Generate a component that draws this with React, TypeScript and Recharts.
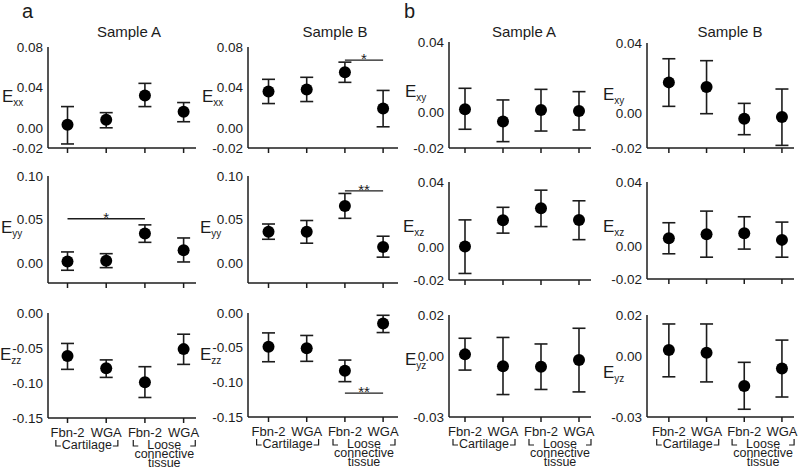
import { ScatterChart, Scatter, XAxis, YAxis, ErrorBar, ReferenceLine } from 'recharts'

const categories = ['Fbn-2', 'WGA', 'Fbn-2', 'WGA']
const tissueGroups = ['Cartilage', 'Loose connective tissue']
const samples = ['Sample A', 'Sample B']

// strain means and error-bar bounds
const exxAMean = [0.003, 0.008, 0.032, 0.016]
const exxALo = [-0.016, 0.0, 0.021, 0.006]
const exxAHi = [0.021, 0.015, 0.044, 0.025]
const exxBMean = [0.036, 0.038, 0.055, 0.019]
const exxBLo = [0.024, 0.026, 0.045, 0.001]
const exxBHi = [0.048, 0.05, 0.065, 0.037]

const eyyAMean = [0.002, 0.003, 0.034, 0.015]
const eyyALo = [-0.008, -0.005, 0.024, 0.0015]
const eyyAHi = [0.013, 0.011, 0.044, 0.029]
const eyyBMean = [0.036, 0.036, 0.0656, 0.0187]
const eyyBLo = [0.0275, 0.023, 0.0515, 0.007]
const eyyBHi = [0.045, 0.049, 0.08, 0.031]

const ezzAMean = [-0.0615, -0.079, -0.099, -0.0516]
const ezzALo = [-0.0805, -0.092, -0.1207, -0.0734]
const ezzAHi = [-0.0435, -0.067, -0.0767, -0.0303]
const ezzBMean = [-0.0488, -0.051, -0.0832, -0.0152]
const ezzBLo = [-0.0703, -0.0697, -0.099, -0.0282]
const ezzBHi = [-0.0287, -0.0324, -0.0679, -0.0033]

const exyAMean = [0.002, -0.005, 0.0015, 0.001]
const exyALo = [-0.0094, -0.0164, -0.0104, -0.0098]
const exyAHi = [0.0138, 0.0072, 0.0132, 0.0119]
const exyBMean = [0.0175, 0.0148, -0.0033, -0.0023]
const exyBLo = [0.0038, -0.0004, -0.0124, -0.0185]
const exyBHi = [0.031, 0.0299, 0.0055, 0.0137]

const exzAMean = [0.0005, 0.0166, 0.0239, 0.0168]
const exzALo = [-0.016, 0.0087, 0.0127, 0.0047]
const exzAHi = [0.0168, 0.0245, 0.035, 0.0285]
const exzBMean = [0.0052, 0.0077, 0.0083, 0.0042]
const exzBLo = [-0.0044, -0.0065, -0.0015, -0.0065]
const exzBHi = [0.0148, 0.022, 0.0185, 0.0152]

const eyzAMean = [0.0007, -0.0051, -0.0054, -0.0021]
const eyzALo = [-0.007, -0.019, -0.0165, -0.0177]
const eyzAHi = [0.0086, 0.009, 0.0058, 0.0135]
const eyzBMean = [0.0028, 0.0015, -0.0148, -0.0062]
const eyzBLo = [-0.0103, -0.0128, -0.0262, -0.0202]
const eyzBHi = [0.0156, 0.0156, -0.0032, 0.0077]

const INK = '#1c1c1c'
const FONT = '"Liberation Sans", Arial, sans-serif'

// layout of the 3x4 grid (pixels)
const AX = [48, 248, 449, 647]
const EX = [196, 398, 591, 794]
const TOPS = [[47, 47, 42, 43], [176, 176, 182, 182], [313, 313, 315, 315]]
const BOTS = [[148, 148, 148, 148], [283, 283, 280, 279], [418, 417, 417, 417]]
const XDOM = [[0.496, 4.32], [0.463, 4.39], [0.579, 4.316], [0.42, 4.32]]

type Sig = { from: number; to: number; y: number; mark: string }
type PanelDef = {
  sub: string
  mean: number[]
  lo: number[]
  hi: number[]
  row: number
  col: number
  domain: [number, number]
  ticks: number[]
  label: [number, number]
  sig?: Sig
}

const panels: PanelDef[] = [
  { sub: 'xx', mean: exxAMean, lo: exxALo, hi: exxAHi, row: 0, col: 0, domain: [-0.02, 0.08], ticks: [-0.02, 0, 0.04, 0.08], label: [2, 102] },
  { sub: 'xx', mean: exxBMean, lo: exxBLo, hi: exxBHi, row: 0, col: 1, domain: [-0.02, 0.08], ticks: [-0.02, 0, 0.04, 0.08], label: [202, 102], sig: { from: 3, to: 4, y: 0.067, mark: '*' } },
  { sub: 'xy', mean: exyAMean, lo: exyALo, hi: exyAHi, row: 0, col: 2, domain: [-0.02, 0.04], ticks: [-0.02, 0, 0.04], label: [405, 97] },
  { sub: 'xy', mean: exyBMean, lo: exyBLo, hi: exyBHi, row: 0, col: 3, domain: [-0.02, 0.04], ticks: [-0.02, 0, 0.04], label: [603, 100] },
  { sub: 'yy', mean: eyyAMean, lo: eyyALo, hi: eyyAHi, row: 1, col: 0, domain: [-0.0226, 0.1], ticks: [0, 0.05, 0.1], label: [1, 233], sig: { from: 1, to: 3, y: 0.051, mark: '*' } },
  { sub: 'yy', mean: eyyBMean, lo: eyyBLo, hi: eyyBHi, row: 1, col: 1, domain: [-0.0226, 0.1], ticks: [0, 0.05, 0.1], label: [200, 233], sig: { from: 3, to: 4, y: 0.083, mark: '**' } },
  { sub: 'xz', mean: exzAMean, lo: exzALo, hi: exzAHi, row: 1, col: 2, domain: [-0.02, 0.04], ticks: [-0.02, 0, 0.04], label: [403, 232] },
  { sub: 'xz', mean: exzBMean, lo: exzBLo, hi: exzBHi, row: 1, col: 3, domain: [-0.02, 0.04], ticks: [-0.02, 0, 0.04], label: [603, 232] },
  { sub: 'zz', mean: ezzAMean, lo: ezzALo, hi: ezzAHi, row: 2, col: 0, domain: [-0.15, 0], ticks: [-0.15, -0.1, -0.05, 0], label: [0, 360] },
  { sub: 'zz', mean: ezzBMean, lo: ezzBLo, hi: ezzBHi, row: 2, col: 1, domain: [-0.15, 0], ticks: [-0.15, -0.1, -0.05, 0], label: [200, 360], sig: { from: 3, to: 4, y: -0.1157, mark: '**' } },
  { sub: 'yz', mean: eyzAMean, lo: eyzALo, hi: eyzAHi, row: 2, col: 2, domain: [-0.03, 0.02], ticks: [-0.03, 0, 0.02], label: [405, 365] },
  { sub: 'yz', mean: eyzBMean, lo: eyzBLo, hi: eyzBHi, row: 2, col: 3, domain: [-0.03, 0.02], ticks: [-0.03, 0, 0.02], label: [603, 378] },
]

function CategoryTick(props: any) {
  const { x, y, payload, labelled } = props
  const axisY = y - 5
  const v = payload.value
  if (Number.isInteger(v)) {
    return (
      <g>
        <line x1={x} x2={x} y1={axisY} y2={axisY + 5} stroke={INK} strokeWidth={1.5} />
        {labelled && (
          <text x={x} y={axisY + 19} textAnchor="middle" fontSize={13} fill={INK} fontFamily={FONT}>
            {categories[v - 1]}
          </text>
        )}
      </g>
    )
  }
  if (!labelled) return <g />
  const lines = v < 2 ? [tissueGroups[0]] : tissueGroups[1].split(' ')
  const by = axisY + 28
  return (
    <g>
      <path
        d={`M${x - 31},${by - 6}V${by}h5M${x + 31},${by - 6}V${by}h-5`}
        stroke={INK}
        strokeWidth={1.2}
        fill="none"
      />
      {lines.map((t, i) => (
        <text key={i} x={x} y={axisY + 30.5 + i * 9.2} textAnchor="middle" fontSize={12.5} fill={INK} fontFamily={FONT}>
          {t}
        </text>
      ))}
    </g>
  )
}

function Panel({ p }: { p: PanelDef }) {
  const top = TOPS[p.row][p.col]
  const bottom = BOTS[p.row][p.col]
  const axisX = AX[p.col]
  const endX = EX[p.col]
  const bottomRow = p.row === 2
  const xAxisH = bottomRow ? 55 : 10
  const width = endX - axisX + 45 + 6
  const height = 10 + (bottom - top) + xAxisH
  const data = p.mean.map((m, i) => ({ x: i + 1, y: m, err: [m - p.lo[i], p.hi[i] - m] }))
  const xTicks = bottomRow ? [1, 1.5, 2, 3, 3.5, 4] : [1, 2, 3, 4]

  return (
    <div style={{ position: 'absolute', left: axisX - 45, top: top - 10 }}>
      <ScatterChart width={width} height={height} margin={{ top: 10, right: 6, bottom: 0, left: 0 }}>
        <XAxis
          type="number"
          dataKey="x"
          domain={XDOM[p.col]}
          ticks={xTicks}
          interval={0}
          height={xAxisH}
          tickLine={false}
          tickSize={5}
          tickMargin={0}
          axisLine={{ stroke: INK, strokeWidth: 1.5 }}
          tick={(t: any) => <CategoryTick {...t} labelled={bottomRow} />}
        />
        <YAxis
          type="number"
          dataKey="y"
          width={45}
          domain={p.domain}
          ticks={p.ticks}
          interval={0}
          tickLine={false}
          tickSize={0}
          tickMargin={5}
          axisLine={{ stroke: INK, strokeWidth: 1.5 }}
          tick={{ fontSize: 13.5, fill: INK, fontFamily: FONT }}
          tickFormatter={(v: number) => v.toFixed(2)}
        />
        {p.sig && (
          <ReferenceLine
            segment={[{ x: p.sig.from, y: p.sig.y }, { x: p.sig.to, y: p.sig.y }]}
            stroke={INK}
            strokeWidth={1.3}
            label={{
              content: ({ viewBox }: any) => (
                <text
                  x={viewBox.x + viewBox.width / 2}
                  y={viewBox.y + 4}
                  textAnchor="middle"
                  fontSize={15}
                  fill={INK}
                  fontFamily={FONT}
                >
                  {p.sig!.mark}
                </text>
              ),
            }}
          />
        )}
        <Scatter
          data={data}
          isAnimationActive={false}
          shape={(s: any) => <circle cx={s.cx} cy={s.cy} r={6} fill="#000" />}
        >
          <ErrorBar dataKey="err" direction="y" width={6.5} stroke={INK} strokeWidth={1.6} />
        </Scatter>
      </ScatterChart>
    </div>
  )
}

export default function App() {
  const titleX = [129, 335, 524, 730]
  return (
    <div style={{ position: 'absolute', left: 0, top: 0, width: 800, height: 469, background: '#fff', fontFamily: FONT }}>
      {panels.map((p, i) => (
        <Panel key={i} p={p} />
      ))}
      <svg width={800} height={469} style={{ position: 'absolute', left: 0, top: 0, pointerEvents: 'none' }}>
        <text x={22} y={18} fontSize={20} fill={INK} fontFamily={FONT}>a</text>
        <text x={404} y={18} fontSize={20} fill={INK} fontFamily={FONT}>b</text>
        {titleX.map((x, i) => (
          <text key={i} x={x} y={37} textAnchor="middle" fontSize={15} fill={INK} fontFamily={FONT}>
            {samples[i % 2]}
          </text>
        ))}
        {panels.map((p, i) => (
          <text key={i} x={p.label[0]} y={p.label[1]} fontSize={17} fill={INK} fontFamily={FONT}>
            E
            <tspan fontSize={10} dy={4}>{p.sub}</tspan>
          </text>
        ))}
      </svg>
    </div>
  )
}
